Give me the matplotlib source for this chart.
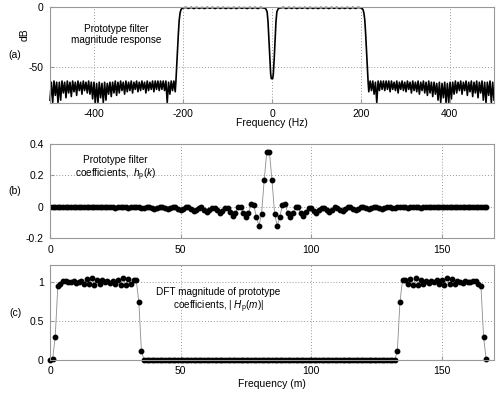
import numpy as np
import matplotlib.pyplot as plt

plt.rcParams['font.family'] = ['Liberation Sans', 'DejaVu Sans']
plt.rcParams['font.size'] = 7.5
plt.rcParams['axes.unicode_minus'] = False
plt.rcParams['mathtext.fontset'] = 'custom'
plt.rcParams['mathtext.rm'] = 'Liberation Sans'
plt.rcParams['mathtext.it'] = 'Liberation Sans:italic'

# (a) prototype filter magnitude response in dB
stop_left_hz = np.arange(-500, -217, 3)
stop_left_db = [-78, -63, -80, -62, -74, -63, -80, -63, -78, -62, -72,
                -63, -76, -62, -72, -63, -75, -62, -71, -63, -74, -62, -70, -63, -73,
                -62, -70, -63, -72, -62, -73, -63, -77, -63, -80, -64, -80, -63, -76,
                -64, -80, -63, -78, -64, -73, -63, -75, -63, -72, -62, -74, -63, -72,
                -62, -70, -63, -73, -62, -71, -63, -70, -62, -72, -63, -69, -62, -71,
                -63, -70, -62, -69, -63, -72, -62, -70, -63, -69, -62, -71, -62, -69,
                -62, -70, -62, -69, -62, -70, -62, -80, -63, -73, -62, -70, -62, -71]
tr_left_hz = [-216.5, -215, -213, -211, -209, -207, -205, -203]
tr_left_db = [-63, -52, -38, -23, -11, -5, -2.2, -1.2]
pass_left_hz = np.arange(-200, -19, 6)
pass_left_db = [-0.8, -0.3, -1.2, -0.3, -1.3, -0.3, -1.2, -0.4, -1.3, -0.3, -1.1, -0.3, -1.3,
                -0.3, -1.2, -0.3, -1.3, -0.4, -1.2, -0.3, -1.3, -0.3, -1.1, -0.4, -1.3, -0.3,
                -1.2, -0.3, -1.3, -0.3, -0.8]
notch_hz = [-17, -14, -11, -9, -7, -5, -3, -1.5, 1.5, 3, 5, 7, 9, 11, 14, 17]
notch_db = [-0.8, -1.5, -4, -12, -27, -43, -56, -60, -60, -56, -43, -27, -12, -4, -1.5, -0.8]
pass_right_hz = np.arange(20, 201, 6)
pass_right_db = [-0.8, -0.3, -1.3, -0.3, -1.2, -0.3, -1.3, -0.4, -1.1, -0.3, -1.3, -0.3, -1.2,
                 -0.4, -1.3, -0.3, -1.2, -0.3, -1.3, -0.3, -1.1, -0.3, -1.3, -0.4, -1.2, -0.3,
                 -1.3, -0.3, -1.2, -0.3, -0.8]
tr_right_hz = [203, 205, 207, 209, 211, 213, 215, 216.5]
tr_right_db = [-1.2, -2.2, -5, -11, -23, -38, -52, -63]
stop_right_hz = np.arange(218, 501, 3)
stop_right_db = [-71, -62, -70, -62, -73, -63, -80, -62, -70, -62, -69, -62, -70, -62,
                 -69, -62, -71, -62, -69, -63, -70, -62, -72, -63, -69, -62, -70, -63,
                 -71, -62, -69, -63, -72, -62, -70, -63, -71, -62, -73, -63, -70, -62,
                 -72, -63, -74, -62, -72, -63, -75, -63, -73, -64, -78, -63, -80, -64,
                 -76, -63, -80, -64, -80, -63, -77, -63, -73, -62, -72, -63, -70, -62,
                 -73, -63, -70, -62, -74, -63, -71, -62, -75, -63, -72, -62, -76, -63,
                 -72, -62, -78, -63, -80, -63, -74, -62, -80, -63, -78]

# (b) prototype filter coefficients h_p(k), k = 0..167
coef_k = np.arange(168)
coef_left = [-0.001, -0.002, -0.001, 0.000, -0.001, -0.002, -0.002, 0.000, 0.001, -0.001,
             -0.003, -0.002, 0.001, 0.002, -0.001, -0.003, -0.002, 0.001, 0.002, -0.001,
             -0.004, -0.002, 0.001, 0.002, -0.002, -0.005, -0.003, 0.001, 0.002, -0.003,
             -0.006, -0.004, 0.001, 0.002, -0.004, -0.008, -0.006, 0.000, 0.001, -0.006,
             -0.011, -0.008, -0.001, 0.001, -0.008, -0.014, -0.010, -0.002, 0.000, -0.011,
             -0.019, -0.013, -0.003, -0.002, -0.016, -0.026, -0.018, -0.005, -0.004, -0.020,
             -0.032, -0.023, -0.008, -0.006, -0.023, -0.038, -0.027, -0.006, -0.006, -0.034,
             -0.055, -0.038, -0.004, -0.004, -0.038, -0.065, -0.038, 0.018, 0.010, -0.062,
             -0.120, -0.044, 0.168, 0.350]
coef_right = [0.350, 0.168, -0.044, -0.120, -0.062, 0.010, 0.018, -0.038, -0.065, -0.038,
              -0.004, -0.004, -0.038, -0.055, -0.034, -0.006, -0.006, -0.027, -0.038, -0.023,
              -0.006, -0.008, -0.023, -0.032, -0.020, -0.004, -0.005, -0.018, -0.026, -0.016,
              -0.002, -0.003, -0.013, -0.019, -0.011, 0.000, -0.002, -0.010, -0.014, -0.008,
              0.001, -0.001, -0.008, -0.011, -0.006, 0.001, 0.000, -0.006, -0.008, -0.004,
              0.002, 0.001, -0.004, -0.006, -0.003, 0.002, 0.001, -0.003, -0.005, -0.002,
              0.002, 0.001, -0.002, -0.004, -0.001, 0.002, 0.001, -0.002, -0.003, -0.001,
              0.002, 0.001, -0.002, -0.003, -0.001, 0.001, 0.000, -0.002, -0.002, -0.001,
              0.000, -0.001, -0.002, -0.001]

# (c) DFT magnitude |H_p(m)|, m = 0..167
dft_m = np.arange(168)
dft_mag = ([0.00, 0.01, 0.30, 0.95, 0.97, 1.01, 1.02, 1.00, 1.00, 1.01, 0.99, 1.00,
            1.02, 0.97, 1.04, 0.97, 1.05, 0.96, 1.03, 0.98, 1.03, 1.00, 1.01, 0.99,
            1.02, 0.97, 1.03, 0.96, 1.05, 0.96, 1.04, 0.97, 1.03, 1.03, 0.75, 0.12]
           + [0.0] * 97
           + [0.12, 0.75, 1.03, 1.03, 0.97, 1.04, 0.96, 1.05, 0.96, 1.03, 0.97, 1.02,
              0.99, 1.01, 1.00, 1.03, 0.98, 1.03, 0.96, 1.05, 0.97, 1.04, 0.97, 1.02,
              1.00, 0.99, 1.01, 1.00, 1.00, 1.02, 1.01, 0.97, 0.95, 0.30, 0.01])

freq_hz = np.concatenate([stop_left_hz, tr_left_hz, pass_left_hz, notch_hz,
                          pass_right_hz, tr_right_hz, stop_right_hz])
mag_db = np.concatenate([stop_left_db, tr_left_db, pass_left_db, notch_db,
                         pass_right_db, tr_right_db, stop_right_db])
coef = np.array(coef_left + coef_right)

fig = plt.figure(figsize=(5, 3.94), dpi=100)
ax_a = fig.add_axes([0.1, 0.7398, 0.888, 0.2424])
ax_b = fig.add_axes([0.1, 0.3952, 0.888, 0.2393])
ax_c = fig.add_axes([0.1, 0.0863, 0.888, 0.2411])

def style(ax):
    ax.grid(True, linestyle=(0, (1, 2)), color='#999999', linewidth=0.7)
    for sp in ax.spines.values():
        sp.set_color('#999999')
        sp.set_linewidth(0.8)
    ax.tick_params(direction='in', length=3, color='#999999', pad=4.5)

# (a)
ax_a.plot(freq_hz, mag_db, color='k', linewidth=1.2, clip_on=False)
ax_a.set_xlim(-500, 500)
ax_a.set_ylim(-80, 0)
ax_a.set_xticks([-400, -200, 0, 200, 400])
ax_a.set_yticks([-50, 0])
ax_a.set_ylabel('dB')
ax_a.yaxis.set_label_coords(-0.047, 0.71)
ax_a.set_xlabel('Frequency (Hz)')
ax_a.xaxis.set_label_coords(0.5, -0.165)
ax_a.text(-350, -23, 'Prototype filter\nmagnitude response', ha='center', va='center',
          linespacing=1.2, fontsize=7.2)
style(ax_a)

# (b)
ax_b.plot(coef_k, coef, '-o', color='#8c8c8c', linewidth=0.6, markersize=3.2,
          markerfacecolor='k', markeredgecolor='k')
ax_b.set_xlim(0, 170)
ax_b.set_ylim(-0.2, 0.4)
ax_b.set_xticks([0, 50, 100, 150])
ax_b.set_yticks([-0.2, 0, 0.2, 0.4])
ax_b.set_yticklabels(['-0.2', '0', '0.2', '0.4'])
ax_b.text(25, 0.24, 'Prototype filter\ncoefficients,  $h_{\\rm p}(k)$', ha='center',
          va='center', linespacing=1.2, fontsize=7.2)
style(ax_b)

# (c)
ax_c.plot(dft_m, dft_mag, '-o', color='#8c8c8c', linewidth=0.6, markersize=3.2,
          markerfacecolor='k', markeredgecolor='k', clip_on=False)
ax_c.set_xlim(0, 170)
ax_c.set_ylim(0, 1.22)
ax_c.set_xticks([0, 50, 100, 150])
ax_c.set_yticks([0, 0.5, 1])
ax_c.set_yticklabels(['0', '0.5', '1'])
ax_c.set_xlabel('Frequency (m)')
ax_c.xaxis.set_label_coords(0.5, -0.205)
ax_c.text(64.5, 0.76, 'DFT magnitude of prototype\ncoefficients, | $H_{\\rm p}(m)$|',
          ha='center', va='center', linespacing=1.2, fontsize=7.2)
style(ax_c)

fig.text(0.03, 1 - 55 / 394, '(a)', ha='center', va='center')
fig.text(0.03, 1 - 191 / 394, '(b)', ha='center', va='center')
fig.text(0.03, 1 - 313 / 394, '(c)', ha='center', va='center')

fig.savefig('out.png', dpi=100)
